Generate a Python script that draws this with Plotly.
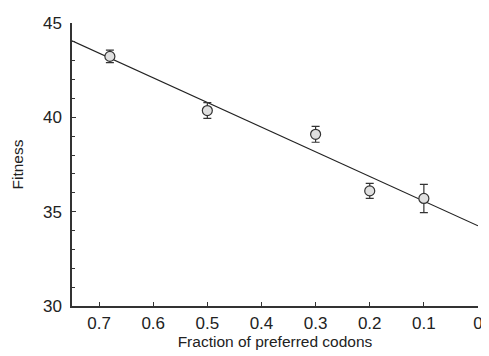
import plotly.graph_objects as go

# Data
fraction = [0.68, 0.5, 0.3, 0.2, 0.1]
fitness = [43.23, 40.36, 39.1, 36.1, 35.7]
fitness_err = [0.33, 0.42, 0.42, 0.4, 0.75]

fit_x = [0.75, 0.0]
fit_y = [44.05, 34.25]

x_ticks = [0.7, 0.6, 0.5, 0.4, 0.3, 0.2, 0.1, 0]
x_ticklabels = ["0.7", "0.6", "0.5", "0.4", "0.3", "0.2", "0.1", "0"]
y_ticks = [30, 35, 40, 45]

fig = go.Figure()
fig.add_trace(go.Scatter(
    x=fit_x, y=fit_y, mode="lines",
    line=dict(color="#222222", width=1.2),
    showlegend=False, hoverinfo="skip",
))
fig.add_trace(go.Scatter(
    x=fraction, y=fitness, mode="markers",
    marker=dict(symbol="circle", size=10, color="#e0e0e0",
                line=dict(color="#333333", width=1.2)),
    error_y=dict(type="data", array=fitness_err, visible=True,
                 color="#333333", thickness=1.2, width=4),
    showlegend=False,
))

font_family = "Liberation Sans, Arial, Helvetica, sans-serif"
# the page body adds an 8px margin, so the figure is 8px smaller on each side
fig.update_layout(
    width=481, height=348,
    margin=dict(l=64, r=6, t=10, b=50),
    paper_bgcolor="white", plot_bgcolor="white",
    font=dict(family=font_family, color="#222222", size=17),
    xaxis=dict(
        range=[0.75, 0], autorange=False,
        tickmode="array", tickvals=x_ticks, ticktext=x_ticklabels,
        ticks="inside", ticklen=4, tickwidth=1.2, tickcolor="#333333",
        ticklabelstandoff=1, ticklabeloverflow="allow",
        showline=True, linecolor="#333333", linewidth=1.5,
        showgrid=False, zeroline=False,
        tickfont=dict(size=17),
        title=dict(text="Fraction of preferred codons", font=dict(size=15.5), standoff=0),
    ),
    yaxis=dict(
        range=[30, 45], autorange=False,
        tickmode="array", tickvals=y_ticks,
        ticks="inside", ticklen=4, tickwidth=1.2, tickcolor="#333333",
        ticklabelstandoff=5, ticklabeloverflow="allow",
        minor=dict(dtick=1, ticks="inside", ticklen=3, tickwidth=1, tickcolor="#333333", showgrid=False),
        showline=True, linecolor="#333333", linewidth=1.5,
        showgrid=False, zeroline=False,
        tickfont=dict(size=17),
        title=dict(text="Fitness", font=dict(size=15.5), standoff=16),
    ),
)

fig.write_html("out.html")
